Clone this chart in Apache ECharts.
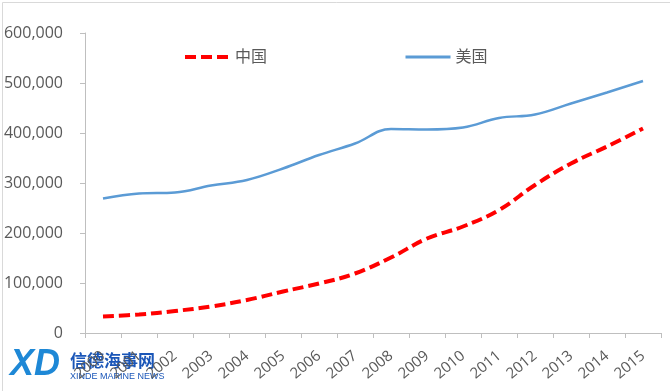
<!DOCTYPE html>
<html><head><meta charset="utf-8">
<script src="https://cdn.jsdelivr.net/npm/echarts@6/dist/echarts.min.js"></script>
<style>html,body{margin:0;padding:0;background:#fff}#c{width:670px;height:391px}</style>
</head><body><div id="c"></div>
<script>
const years = ['2000','2001','2002','2003','2004','2005','2006','2007','2008','2009','2010','2011','2012','2013','2014','2015'];
const china = [33000, 37000, 44000, 53000, 66000, 83000, 99000, 119000, 151000, 189000, 213000, 246000, 296000, 339000, 373000, 409000];
const usa = [269000, 279000, 281000, 295000, 306000, 329000, 356000, 379000, 408000, 407000, 411000, 430000, 437000, 459000, 481000, 504000];
const yTicks = [0, 100000, 200000, 300000, 400000, 500000, 600000];

const chart = echarts.init(document.getElementById('c'));
const fam = '"Open Sans", "Liberation Sans", "Noto Sans CJK SC", sans-serif';
chart.setOption({
  animation: false,
  backgroundColor: '#fff',
  grid: {left: 85, right: 9, top: 33, bottom: 58, containLabel: false},
  legend: {
    left: 178, top: 44, itemWidth: 45, itemHeight: 14, itemGap: 137,
    itemStyle: {opacity: 0},
    textStyle: {color: '#595959', fontSize: 16, fontFamily: fam},
    data: [
      {name: '中国', lineStyle: {width: 4, type: [11, 5], color: '#ff0000'}},
      {name: '美国', lineStyle: {width: 3, color: '#5b9bd5'}}
    ]
  },
  xAxis: {
    type: 'category', data: years, boundaryGap: true,
    axisLine: {lineStyle: {color: '#bfbfbf', width: 1}},
    axisTick: {show: true, length: 5, inside: false, lineStyle: {color: '#bfbfbf'}},
    axisLabel: {rotate: 40, interval: 0, margin: 21, color: '#595959', fontSize: 15, fontFamily: fam},
    splitLine: {show: false}
  },
  yAxis: {
    type: 'value', min: yTicks[0], max: yTicks[yTicks.length - 1], interval: 100000,
    axisLine: {show: true, lineStyle: {color: '#bfbfbf', width: 1}},
    axisTick: {show: true, length: 5, lineStyle: {color: '#bfbfbf'}},
    axisLabel: {margin: 22, color: '#595959', fontSize: 16, fontFamily: fam,
      formatter: v => v.toLocaleString('en-US')},
    splitLine: {show: false}
  },
  series: [
    {name: '中国', type: 'line', data: china, smooth: 0.4, symbol: 'none',
     lineStyle: {color: '#ff0000', width: 4, type: [11, 5]}, itemStyle: {color: '#ff0000'}},
    {name: '美国', type: 'line', data: usa, smooth: 0.4, symbol: 'none',
     lineStyle: {color: '#5b9bd5', width: 2.5}, itemStyle: {color: '#5b9bd5'}}
  ],
  graphic: [
    {type: 'rect', left: 0, top: 0, shape: {width: 669, height: 390}, silent: true,
     style: {fill: 'none', stroke: '#d9d9d9', lineWidth: 1}},
    {type: 'text', left: 10, top: 347, silent: true,
     style: {text: 'XD', fill: '#1e88d6', font: 'italic bold 36px "Liberation Sans", sans-serif'}},
    {type: 'text', left: 70, top: 352, silent: true,
     style: {text: '信德海事网', fill: '#1a56b8', font: 'bold 17px "Noto Sans CJK SC", sans-serif'}},
    {type: 'text', left: 70, top: 372, silent: true,
     style: {text: 'XINDE MARINE NEWS', fill: '#1a56b8', font: '9px "Liberation Sans", sans-serif'}}
  ]
});
</script></body></html>
